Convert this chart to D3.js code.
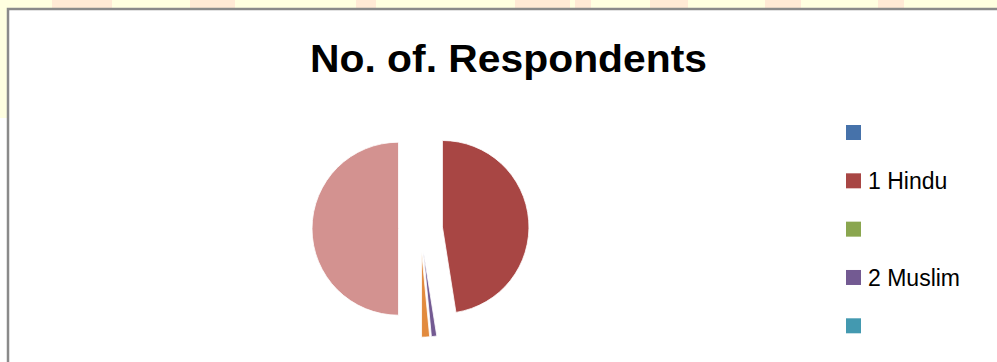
<!DOCTYPE html>
<html>
<head>
<meta charset="utf-8">
<script src="https://cdn.jsdelivr.net/npm/d3@7"></script>
<style>
  html, body { margin: 0; padding: 0; background: #ffffff; }
  svg { display: block; }
</style>
</head>
<body>
<svg id="chart" width="997" height="362"></svg>
<script>
// Respondents by religion (spreadsheet rows, blanks included)
const categories = ["", "1 Hindu", "", "2 Muslim", "", "3 Others", "", "Total"];
const respondents = [0, 95, 0, 2, 0, 3, 0, 100];
const sliceColors = ["#4672aa", "#a84644", "#8aa64f", "#735a92", "#4399b0", "#e28a3d", "#5a7fb8", "#d39290"];
const legendCount = 5; // only the first entries fit in the legend box
const chartTitle = "No. of. Respondents";

const W = 997, H = 362;
const svg = d3.select("#chart");

// page background with faint watermark strip at the top
svg.append("rect").attr("x", 0).attr("y", 0).attr("width", W).attr("height", H).attr("fill", "#ffffff");
svg.append("rect").attr("x", 0).attr("y", 0).attr("width", W).attr("height", 9).attr("fill", "#ffffe0");
svg.append("rect").attr("x", 0).attr("y", 0).attr("width", 8).attr("height", 118).attr("fill", "#ffffe0");
const marks = [[52, 60], [190, 45], [356, 20], [515, 55], [575, 16], [650, 38], [765, 36], [878, 26]];
svg.append("g").selectAll("rect").data(marks).join("rect")
  .attr("x", d => d[0]).attr("y", 0).attr("width", d => d[1]).attr("height", 8)
  .attr("fill", "#ffd9cc").attr("opacity", 0.55);

// chart frame
svg.append("path")
  .attr("d", `M8,${H} L8,9 L${W},9`)
  .attr("fill", "none").attr("stroke", "#8a8a8a").attr("stroke-width", 2.5);

// title
svg.append("text")
  .attr("x", 508.5).attr("y", 72)
  .attr("text-anchor", "middle")
  .attr("font-family", "'Liberation Sans', Arial, sans-serif")
  .attr("font-weight", "bold")
  .attr("font-size", 38)
  .attr("textLength", 397).attr("lengthAdjust", "spacingAndGlyphs")
  .attr("fill", "#000")
  .text(chartTitle);

// exploded pie
const data = categories.map((c, i) => ({ cat: c, value: respondents[i], color: sliceColors[i] }));
const pie = d3.pie().value(d => d.value).sort(null).startAngle(0).endAngle(2 * Math.PI);
const radius = 86.5, explode = 22;
const arc = d3.arc().innerRadius(0).outerRadius(radius);
const cx = 420.5, cy = 228.7;

svg.append("g").attr("transform", `translate(${cx},${cy})`)
  .selectAll("path")
  .data(pie(data).filter(d => d.data.value > 0))
  .join("path")
  .attr("transform", d => {
    const a = (d.startAngle + d.endAngle) / 2;
    return `translate(${Math.sin(a) * explode},${-Math.cos(a) * explode})`;
  })
  .attr("d", arc)
  .attr("fill", d => d.data.color)
  .attr("stroke", "#ffffff")
  .attr("stroke-width", 0.8);

// legend
const ly = d3.scaleLinear().domain([0, legendCount - 1]).range([125, 318.3]);
const legend = svg.append("g").selectAll("g")
  .data(data.slice(0, legendCount))
  .join("g")
  .attr("transform", (d, i) => `translate(846,${ly(i)})`);
legend.append("rect").attr("width", 15).attr("height", 15).attr("fill", d => d.color);
legend.append("text")
  .attr("x", 22).attr("y", 16)
  .attr("font-family", "'Liberation Sans', Arial, sans-serif")
  .attr("font-size", 23)
  .attr("fill", "#000")
  .text(d => d.cat);
</script>
</body>
</html>
